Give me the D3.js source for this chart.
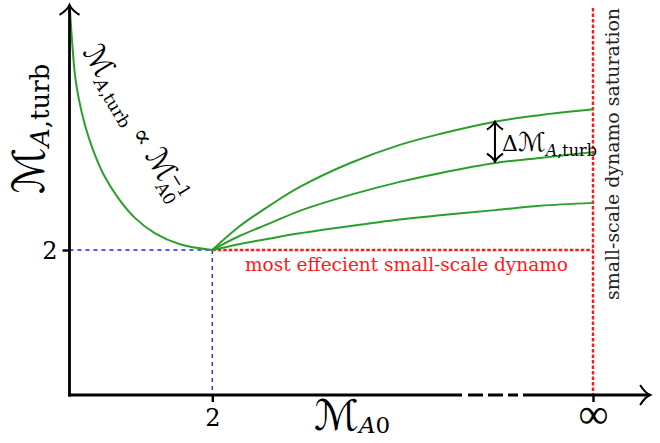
<!DOCTYPE html>
<html><head><meta charset="utf-8">
<script src="https://cdn.jsdelivr.net/npm/d3@7"></script>
<style>body{margin:0;background:#fff}svg{display:block}</style>
</head><body>
<svg id="c" width="660" height="443"></svg>
<script>
// ---- data (schematic values) ----
const xTickValues = [2, 6];
const xTickLabels = ["2", "∞"];
const yTickValues = [2];
const yTickLabels = ["2"];

// left branch: M_A,turb ∝ M_A0^-1
const leftX = [0.505, 0.526, 0.558, 0.60, 0.663, 0.747, 0.862, 1.01, 1.19, 1.40, 1.66, 2.0];
const leftY = [5.31, 4.90, 4.41, 4.07, 3.72, 3.38, 3.03, 2.72, 2.44, 2.23, 2.08, 2.0];

// right branches
const rightX = [2.0, 2.28, 2.61, 2.92, 3.45, 3.97, 4.39, 4.97, 5.44, 6.0];
const topY = [2.0, 2.32, 2.62, 2.87, 3.20, 3.45, 3.60, 3.77, 3.86, 3.94];
const midY = [2.0, 2.19, 2.37, 2.54, 2.76, 2.94, 3.06, 3.20, 3.27, 3.35];
const lowY = [2.0, 2.08, 2.16, 2.23, 2.33, 2.42, 2.48, 2.55, 2.61, 2.65];

const xMin = 0.5, xInf = 6, xEnd = 6.6, xBreak = [4.624, 5.265];
const yTop = 5.38;
const deltaX = 4.97, deltaRange = [3.77, 3.22];

// ---- scales ----
const svg = d3.select("#c");
const x = d3.scaleLinear().domain([xMin, xInf]).range([69.5, 593]);
const y = d3.scaleLinear().domain([0, 2]).range([395, 250]);

const GREEN = "#2b9f2b", RED = "#ff1a1a", BLUE = "#2222ff";
const SERIF = "DejaVu Serif";
const MFONT = "DejaVu Sans";

// ---- reference lines ----
const y2 = y(2), x2 = x(2), xI = x(xInf);
svg.append("line").attr("x1", x(xMin)).attr("x2", x2).attr("y1", y2).attr("y2", y2)
  .attr("stroke", BLUE).attr("stroke-width", 1.4).attr("stroke-dasharray", "4,4");
svg.append("line").attr("x1", x2).attr("x2", x2).attr("y1", y2).attr("y2", y(0))
  .attr("stroke", BLUE).attr("stroke-width", 1.4).attr("stroke-dasharray", "4,4");
svg.append("line").attr("x1", x2).attr("x2", xI).attr("y1", y2).attr("y2", y2)
  .attr("stroke", RED).attr("stroke-width", 2.4).attr("stroke-dasharray", "3.5,2");
svg.append("line").attr("x1", xI).attr("x2", xI).attr("y1", y(yTop) + 3).attr("y2", y(0))
  .attr("stroke", RED).attr("stroke-width", 2.4).attr("stroke-dasharray", "3.5,2");

// ---- curves ----
const line = d3.line().x(d => x(d[0])).y(d => y(d[1])).curve(d3.curveCatmullRom.alpha(0.5));
const series = [
  d3.zip(leftX, leftY),
  d3.zip(rightX, topY),
  d3.zip(rightX, midY),
  d3.zip(rightX, lowY)
];
svg.selectAll("path.s").data(series).join("path").attr("class", "s")
  .attr("d", line).attr("fill", "none").attr("stroke", GREEN).attr("stroke-width", 2);

// ---- axes ----
const x0 = x(xMin), yb = y(0);
svg.append("line").attr("x1", x0).attr("x2", x0).attr("y1", yb + 1.5).attr("y2", y(yTop))
  .attr("stroke", "#000").attr("stroke-width", 2.8);
svg.append("line").attr("x1", x0 - 1.4).attr("x2", x(xBreak[0])).attr("y1", yb).attr("y2", yb)
  .attr("stroke", "#000").attr("stroke-width", 2.8);
svg.append("line").attr("x1", x(xBreak[0])).attr("x2", x(xBreak[1])).attr("y1", yb).attr("y2", yb)
  .attr("stroke", "#000").attr("stroke-width", 2.8).attr("stroke-dasharray", "0,6,15,5,15,5,10,6");
svg.append("line").attr("x1", x(xBreak[1])).attr("x2", x(xEnd)).attr("y1", yb).attr("y2", yb)
  .attr("stroke", "#000").attr("stroke-width", 2.8);

// arrow heads (LaTeX-like)
const xe = x(xEnd), yt = y(yTop);
svg.append("path").attr("d", `M${xe-10},${yb-10} Q${xe-5},${yb-2} ${xe},${yb} Q${xe-5},${yb+2} ${xe-10},${yb+10}`)
  .attr("fill", "none").attr("stroke", "#000").attr("stroke-width", 2);
svg.append("path").attr("d", `M${x0-10},${yt+10} Q${x0-2},${yt+5} ${x0},${yt} Q${x0+2},${yt+5} ${x0+10},${yt+10}`)
  .attr("fill", "none").attr("stroke", "#000").attr("stroke-width", 2);

const xa = svg.append("g").attr("transform", `translate(0,${yb})`)
  .call(d3.axisBottom(x).tickValues(xTickValues).tickSize(7).tickPadding(5)
    .tickFormat((d, i) => xTickLabels[i]));
xa.select(".domain").remove();
xa.selectAll("line").attr("stroke", "#000").attr("stroke-width", 2.4);
xa.selectAll("text").attr("font-family", SERIF).attr("font-size", 24).attr("fill", "#000")
  .attr("dy", "0.8em");
xa.selectAll("text").filter((d, i) => xTickLabels[i] === "∞")
  .attr("font-family", "Liberation Serif, Liberation Sans, Noto Sans").attr("font-size", 42).attr("dy", "0.5em");

const ya = svg.append("g").attr("transform", `translate(${x0},0)`)
  .call(d3.axisLeft(y).tickValues(yTickValues).tickSize(7).tickPadding(5)
    .tickFormat((d, i) => yTickLabels[i]));
ya.select(".domain").remove();
ya.selectAll("line").attr("stroke", "#000").attr("stroke-width", 2.4);
ya.selectAll("text").attr("font-family", SERIF).attr("font-size", 24).attr("fill", "#000")
  .attr("dy", "0.35em");

// ---- labels ----
function mathLabel(g, big, parts) {
  const t = g.append("text").attr("font-family", SERIF).attr("fill", "#000");
  parts.forEach(p => {
    const s = t.append("tspan").text(p.t).attr("font-size", p.s || big);
    if (p.m) s.attr("font-family", MFONT);
    if (p.i) s.attr("font-style", "italic");
    if (p.dy) s.attr("dy", p.dy);
    if (p.dx) s.attr("dx", p.dx);
  });
  return t;
}

// x label
mathLabel(svg.append("g").attr("transform", "translate(314,430)"), 42, [
  {t: "ℳ", m: 1}, {t: "A", i: 1, s: 23, dy: 3}, {t: "0", s: 23}
]);

// y label
mathLabel(svg.append("g").attr("transform", "translate(44,194) rotate(-90)"), 44, [
  {t: "ℳ", m: 1}, {t: "A", i: 1, s: 26, dy: 5}, {t: ",turb", s: 26}
]);

// annotation along left curve
mathLabel(svg.append("g").attr("transform", "translate(82,52) rotate(59)"), 30, [
  {t: "ℳ", m: 1}, {t: "A", i: 1, s: 17, dy: 6}, {t: ",turb", s: 17},
  {t: " ∝ ", s: 26, dy: -6}, {t: "ℳ", m: 1},
  {t: "A0", s: 17, dy: 7}, {t: "−1", s: 17, dx: -24, dy: -17}
]);

// delta label
mathLabel(svg.append("g").attr("transform", "translate(502,151)"), 26, [
  {t: "Δ", s: 22}, {t: "ℳ", m: 1}, {t: "A", i: 1, s: 16, dy: 5}, {t: ",turb", s: 16}
]);

// double arrow
const xd = x(deltaX), yd1 = y(deltaRange[0]), yd2 = y(deltaRange[1]);
svg.append("line").attr("x1", xd).attr("x2", xd).attr("y1", yd1).attr("y2", yd2)
  .attr("stroke", "#000").attr("stroke-width", 2);
svg.append("path").attr("d", `M${xd-8},${yd1+8} Q${xd-2},${yd1+4} ${xd},${yd1} Q${xd+2},${yd1+4} ${xd+8},${yd1+8}`)
  .attr("fill", "none").attr("stroke", "#000").attr("stroke-width", 2);
svg.append("path").attr("d", `M${xd-8},${yd2-8} Q${xd-2},${yd2-4} ${xd},${yd2} Q${xd+2},${yd2-4} ${xd+8},${yd2-8}`)
  .attr("fill", "none").attr("stroke", "#000").attr("stroke-width", 2);

// red text
svg.append("text").attr("x", 245).attr("y", y2 + 21)
  .attr("font-family", SERIF).attr("font-size", 18).attr("fill", RED)
  .attr("textLength", 323).attr("lengthAdjust", "spacingAndGlyphs")
  .text("most effecient small-scale dynamo");

// right vertical text
svg.append("text").attr("transform", `translate(${xI + 26},300) rotate(-90)`)
  .attr("font-family", SERIF).attr("font-size", 19).attr("fill", "#222")
  .attr("textLength", 292).attr("lengthAdjust", "spacingAndGlyphs")
  .text("small-scale dynamo saturation");
</script>
</body></html>
